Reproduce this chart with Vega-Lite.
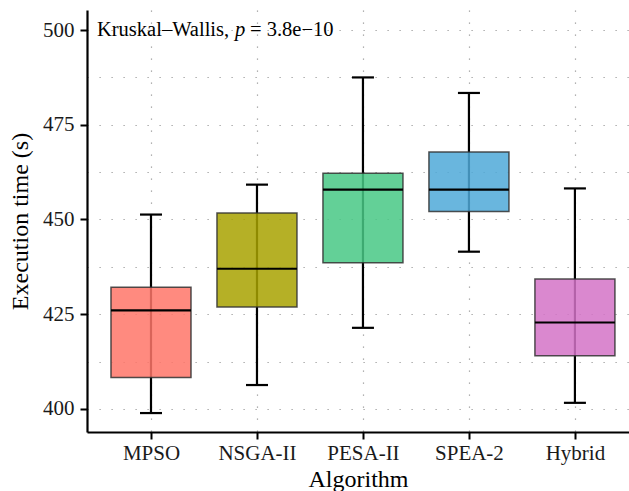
{
  "$schema": "https://vega.github.io/schema/vega-lite/v6.json",
  "width": 542,
  "height": 422,
  "autosize": {"type": "none"},
  "padding": {"left": 87, "top": 10, "right": 0, "bottom": 59},
  "background": "white",
  "config": {
    "font": "Liberation Serif",
    "view": {"stroke": null},
    "axis": {
      "grid": true,
      "gridColor": "#999999",
      "gridWidth": 1.2,
      "gridDash": [1.2, 10.8],
      "domainColor": "#000000",
      "domainWidth": 2.2,
      "tickColor": "#000000",
      "tickWidth": 2,
      "tickSize": 7,
      "labelFont": "Liberation Serif",
      "labelFontSize": 21,
      "labelColor": "#1a1a1a",
      "titleFont": "Liberation Serif",
      "titleFontSize": 24,
      "titleFontWeight": "normal",
      "titleColor": "#000000"
    }
  },
  "data": {
    "values": [
      {"algorithm": "MPSO", "lower": 398.9, "q1": 408.3, "median": 426.0, "q3": 432.1, "upper": 451.3},
      {"algorithm": "NSGA-II", "lower": 406.3, "q1": 426.9, "median": 437.0, "q3": 451.7, "upper": 459.2},
      {"algorithm": "PESA-II", "lower": 421.4, "q1": 438.6, "median": 457.9, "q3": 462.2, "upper": 487.5},
      {"algorithm": "SPEA-2", "lower": 441.5, "q1": 452.1, "median": 457.9, "q3": 467.8, "upper": 483.4},
      {"algorithm": "Hybrid", "lower": 401.6, "q1": 414.0, "median": 422.8, "q3": 434.3, "upper": 458.2}
    ]
  },
  "encoding": {
    "x": {
      "field": "algorithm",
      "type": "nominal",
      "sort": null,
      "scale": {"type": "point", "padding": 0.557, "align": 0.542},
      "axis": {"title": "Algorithm", "labelAngle": 0, "labelPadding": 3, "titlePadding": 4}
    }
  },
  "layer": [
    {
      "mark": {"type": "rule", "color": "#000000", "strokeWidth": 2.2},
      "encoding": {
        "y": {
          "field": "lower",
          "type": "quantitative",
          "scale": {"domain": [393.9, 505.3], "nice": false, "zero": false},
          "axis": {
            "title": "Execution time (s)",
            "values": [400, 412.5, 425, 437.5, 450, 462.5, 475, 487.5, 500],
            "labelExpr": "datum.value % 25 === 0 ? datum.label : ''",
            "tickOpacity": {"condition": {"test": "datum.value % 25 === 0", "value": 1}, "value": 0},
            "labelPadding": 6,
            "titlePadding": 10
          }
        },
        "y2": {"field": "upper"}
      }
    },
    {
      "mark": {"type": "tick", "color": "#000000", "size": 22, "thickness": 2.2, "opacity": 1},
      "encoding": {"y": {"field": "lower", "type": "quantitative"}}
    },
    {
      "mark": {"type": "tick", "color": "#000000", "size": 22, "thickness": 2.2, "opacity": 1},
      "encoding": {"y": {"field": "upper", "type": "quantitative"}}
    },
    {
      "mark": {"type": "bar", "width": 80, "fillOpacity": 0.85, "stroke": "#333333", "strokeWidth": 1.5, "strokeOpacity": 0.85},
      "encoding": {
        "y": {"field": "q1", "type": "quantitative"},
        "y2": {"field": "q3"},
        "fill": {
          "field": "algorithm",
          "type": "nominal",
          "sort": null,
          "legend": null,
          "scale": {"range": ["#FF7669", "#A8A200", "#48C885", "#4FA9D8", "#D473C7"]}
        }
      }
    },
    {
      "mark": {"type": "tick", "color": "#000000", "size": 80, "thickness": 2.2, "opacity": 1},
      "encoding": {"y": {"field": "median", "type": "quantitative"}}
    },
    {
      "data": {"values": [{"method": "Kruskal–Wallis,", "sym": "p", "result": "= 3.8e−10"}]},
      "layer": [
        {
          "mark": {"type": "text", "align": "left", "baseline": "middle", "fontSize": 20.5, "dx": -54, "color": "#000000"},
          "encoding": {"x": {"datum": "MPSO"}, "y": {"datum": 500}, "text": {"field": "method"}}
        },
        {
          "mark": {"type": "text", "align": "left", "baseline": "middle", "fontSize": 20.5, "fontStyle": "italic", "dx": 84, "color": "#000000"},
          "encoding": {"x": {"datum": "MPSO"}, "y": {"datum": 500}, "text": {"field": "sym"}}
        },
        {
          "mark": {"type": "text", "align": "left", "baseline": "middle", "fontSize": 20.5, "dx": 99, "color": "#000000"},
          "encoding": {"x": {"datum": "MPSO"}, "y": {"datum": 500}, "text": {"field": "result"}}
        }
      ]
    }
  ]
}
